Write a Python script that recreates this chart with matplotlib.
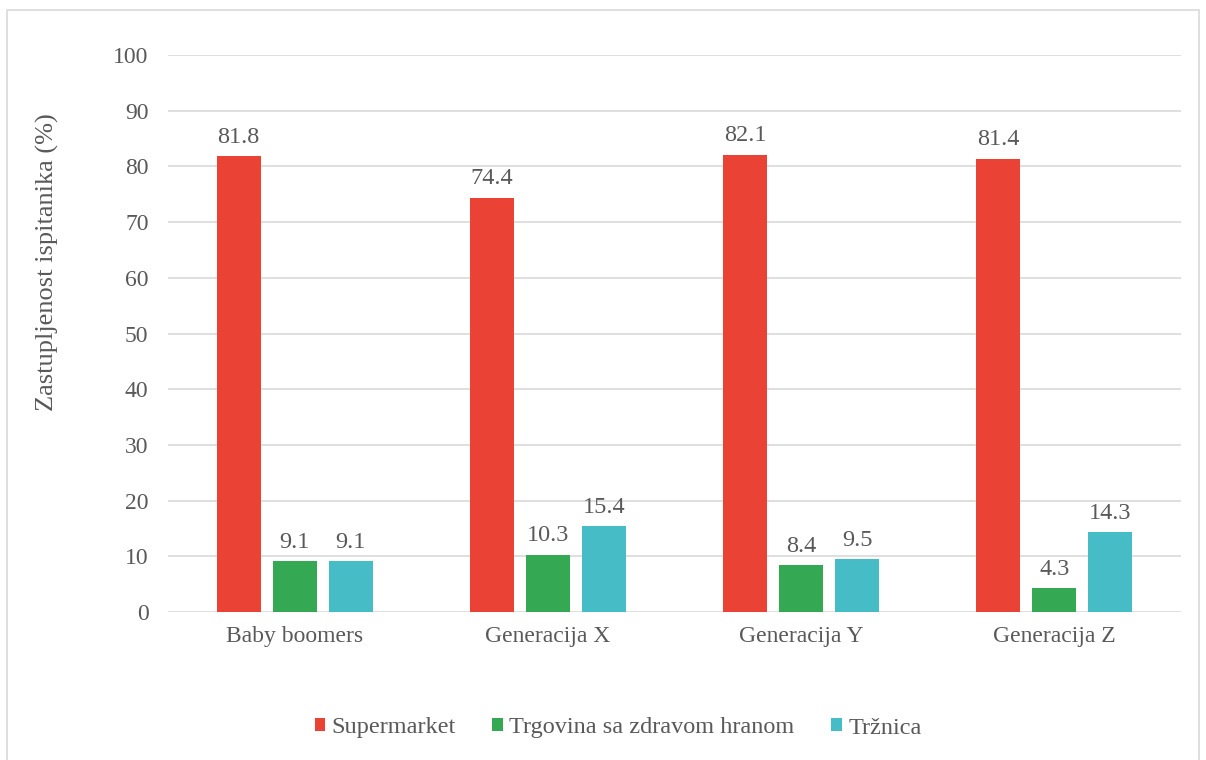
import numpy as np
import matplotlib.pyplot as plt
from matplotlib.patches import Rectangle

generations = ['Baby boomers', 'Generacija X', 'Generacija Y', 'Generacija Z']
supermarket = [81.8, 74.4, 82.1, 81.4]
zdrava_hrana = [9.1, 10.3, 8.4, 4.3]
trznica = [9.1, 15.4, 9.5, 14.3]
series_names = ['Supermarket', 'Trgovina sa zdravom hranom', 'Tržnica']
colors = ['#EA4335', '#34A853', '#46BDC6']

plt.rcParams['font.family'] = ['Liberation Serif', 'DejaVu Serif']
text_col = '#595959'

fig = plt.figure(figsize=(12.06, 7.6), dpi=100)
ax = fig.add_axes([168 / 1206, 1 - 612 / 760, (1181 - 168) / 1206, (612 - 55) / 760])

# outer chart border
fig.patches.append(Rectangle((7 / 1206, -0.01), 1192 / 1206, 1 - 10 / 760 + 0.01,
                             transform=fig.transFigure, fill=False,
                             edgecolor='#D9D9D9', linewidth=1.2))

x = np.arange(len(generations))
w = 44 / 253
step = 56 / 253
for k, (vals, name, c) in enumerate(zip([supermarket, zdrava_hrana, trznica], series_names, colors)):
    pos = x + (k - 1) * step
    ax.bar(pos, vals, width=w, color=c, label=name, zorder=3)
    for xi, v in zip(pos, vals):
        ax.annotate(f'{v:.1f}', (xi, v), xytext=(0, 6), textcoords='offset points',
                    ha='center', va='bottom', fontsize=17.5, color=text_col)

ax.set_xlim(-0.5, len(generations) - 0.5)
ax.set_ylim(0, 100)
ax.set_yticks(range(0, 101, 10))
ax.set_xticks(x)
ax.set_xticklabels(generations)
ax.grid(axis='y', color='#D9D9D9', linewidth=1.2, zorder=0)
for s in ax.spines.values():
    s.set_visible(False)
ax.tick_params(length=0, labelsize=17, labelcolor=text_col)
ax.tick_params(axis='x', pad=10)
ax.tick_params(axis='y', pad=14)

fig.text(47 / 1206, 1 - 262 / 760, 'Zastupljenost ispitanika (%)', rotation=90,
         ha='center', va='center', fontsize=19, color=text_col)

fig.legend(loc='center', bbox_to_anchor=(618 / 1206, 1 - 728 / 760), ncol=3,
           frameon=False, fontsize=17.5, handlelength=0.45, handleheight=0.45,
           handletextpad=0.25, columnspacing=1.5, labelcolor=text_col,
           borderpad=0)

fig.savefig('out.png', dpi=100)
